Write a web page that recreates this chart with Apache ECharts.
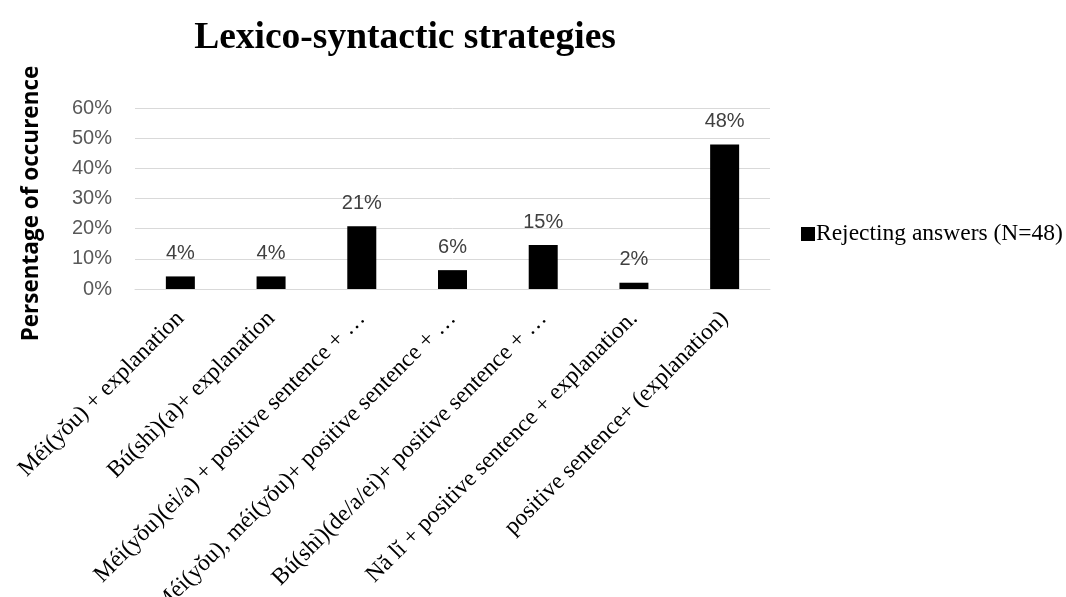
<!DOCTYPE html>
<html><head><meta charset="utf-8">
<script src="https://cdn.jsdelivr.net/npm/echarts@6/dist/echarts.min.js"></script>
<style>html,body{margin:0;padding:0;background:#fff}#c{width:1066px;height:597px}</style>
</head><body><div id="c"></div>
<script>
const categories = [
  "Méi(yǒu) + explanation",
  "Bú(shì)(a)+ explanation",
  "Méi(yǒu)(ei/a) + positive sentence + …",
  "Méi(yǒu), méi(yǒu)+ positive sentence + …",
  "Bú(shì)(de/a/ei)+ positive sentence + …",
  "Nă lĭ + positive sentence + explanation.",
  "positive sentence+ (explanation)"
];
const seriesName = "Rejecting answers (N=48)";
const values = [0.0417, 0.0417, 0.2083, 0.0625, 0.1458, 0.0208, 0.4792];
const yTicks = { min: 0, max: 0.6, interval: 0.1 };
const titleText = "Lexico-syntactic strategies";
const yAxisName = "Persentage of occurence";

const chart = echarts.init(document.getElementById('c'), null, {renderer: 'canvas'});
chart.setOption({
  animation: false,
  backgroundColor: '#fff',
  title: {
    text: titleText, left: 400, top: 14, textAlign: 'center',
    textStyle: { fontFamily: 'Liberation Serif', fontWeight: 'bold', fontSize: 37.5, color: '#000' }
  },
  legend: {
    data: [seriesName], left: 796, top: 217, orient: 'vertical',
    icon: 'rect', itemWidth: 14, itemHeight: 14, itemGap: 6,
    textStyle: { fontFamily: 'Liberation Serif', fontSize: 23.5, color: '#000', padding: [0,0,0,-4] }
  },
  grid: { left: 135, right: 296, top: 108, bottom: 308, containLabel: false, outerBoundsMode: 'none' },
  xAxis: {
    type: 'category', data: categories,
    axisLine: { show: true, lineStyle: { color: '#d9d9d9', width: 1 } },
    axisTick: { show: false },
    axisLabel: {
      interval: 0, rotate: 45, margin: 26,
      fontFamily: 'Liberation Serif', fontSize: 23.5, color: '#000'
    }
  },
  yAxis: {
    type: 'value', min: yTicks.min, max: yTicks.max, interval: yTicks.interval,
    name: yAxisName, nameLocation: 'middle', nameGap: 92, nameRotate: 90,
    nameTextStyle: { fontFamily: 'Open Sans', fontWeight: 'bold', fontSize: 22.5, color: '#000', padding: [0,10,0,0] },
    axisLine: { show: false }, axisTick: { show: false },
    splitLine: { lineStyle: { color: '#d9d9d9', width: 1 } },
    axisLabel: {
      margin: 23, fontFamily: 'Liberation Sans', fontSize: 20, color: '#595959',
      formatter: v => Math.round(v * 100) + '%'
    }
  },
  series: [{
    name: seriesName, type: 'bar', data: values, barWidth: 29,
    itemStyle: { color: '#000' },
    label: {
      show: true, position: 'top', distance: 13,
      fontFamily: 'Liberation Sans', fontSize: 20, color: '#404040',
      formatter: p => Math.round(p.value * 100) + '%'
    }
  }]
});
</script></body></html>
